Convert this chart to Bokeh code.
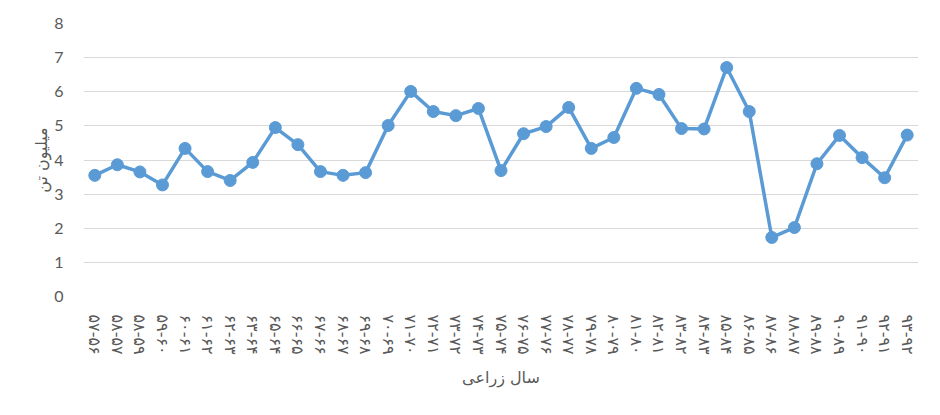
from bokeh.plotting import figure
from bokeh.models import ColumnDataSource, Range1d, FixedTicker
from bokeh.embed import file_html
from bokeh.resources import INLINE

years = ["۵۷-۵۶", "۵۸-۵۷", "۵۸-۵۹", "۵۹-۶۰", "۶۰-۶۱", "۶۱-۶۲", "۶۲-۶۳", "۶۳-۶۴",
         "۶۵-۶۴", "۶۶-۶۵", "۶۷-۶۶", "۶۸-۶۷", "۶۹-۶۸", "۷۰-۶۹", "۷۱-۷۰", "۷۲-۷۱",
         "۷۳-۷۲", "۷۴-۷۳", "۷۵-۷۴", "۷۶-۷۵", "۷۷-۷۶", "۷۸-۷۷", "۷۹-۷۸", "۸۰-۷۹",
         "۸۱-۸۰", "۸۲-۸۱", "۸۳-۸۲", "۸۴-۸۳", "۸۵-۸۴", "۸۶-۸۵", "۸۷-۸۶", "۸۸-۸۷",
         "۸۹-۸۸", "۹۰-۸۹", "۹۱-۹۰", "۹۲-۹۱", "۹۳-۹۲"]
production = [3.55, 3.86, 3.65, 3.27, 4.34, 3.66, 3.40, 3.93, 4.95, 4.45, 3.66, 3.55,
              3.63, 5.01, 6.01, 5.42, 5.30, 5.51, 3.69, 4.77, 4.98, 5.54, 4.34, 4.66,
              6.10, 5.92, 4.92, 4.91, 6.71, 5.42, 1.73, 2.02, 3.89, 4.72, 4.07, 3.48, 4.73]
y_ticks = [0, 1, 2, 3, 4, 5, 6, 7, 8]
x_title = "سال زراعی"
y_title = "میلیون تن"

src = ColumnDataSource(dict(x=years, y=production))

p = figure(width=930, height=405, x_range=years, y_range=Range1d(0, 8),
           output_backend="svg", toolbar_location=None,
           min_border_left=83, min_border_right=12, min_border_top=23,
           min_border_bottom=109)
p.outline_line_color = None
p.background_fill_color = "white"

p.line("x", "y", source=src, line_color="#5B9BD5", line_width=3.5)
p.scatter("x", "y", source=src, size=12, fill_color="#5B9BD5", line_color="#5B9BD5")

p.xgrid.grid_line_color = None
p.ygrid.grid_line_color = "#D9D9D9"
p.ygrid.grid_line_width = 1

p.yaxis.ticker = FixedTicker(ticks=y_ticks)
p.yaxis.axis_line_color = None
p.yaxis.major_tick_line_color = None
p.yaxis.minor_tick_line_color = None
p.yaxis.major_label_standoff = 14
p.yaxis.major_label_text_font = "Lato"
p.yaxis.major_label_text_font_size = "16px"
p.yaxis.major_label_text_color = "#595959"
p.yaxis.axis_label = y_title
p.yaxis.axis_label_text_font = "DejaVu Sans"
p.yaxis.axis_label_text_font_size = "16px"
p.yaxis.axis_label_text_font_style = "normal"
p.yaxis.axis_label_text_color = "#595959"
p.yaxis.axis_label_standoff = 0

p.xaxis.axis_line_color = None
p.xaxis.major_tick_line_color = None
p.xaxis.minor_tick_line_color = None
p.xaxis.major_label_orientation = "vertical"
p.xaxis.major_label_standoff = 12
p.xaxis.major_label_text_font = "DejaVu Sans"
p.xaxis.major_label_text_font_size = "16px"
p.xaxis.major_label_text_color = "#595959"
p.xaxis.axis_label = x_title
p.xaxis.axis_label_text_font = "DejaVu Sans"
p.xaxis.axis_label_text_font_size = "16px"
p.xaxis.axis_label_text_font_style = "normal"
p.xaxis.axis_label_text_color = "#595959"
p.xaxis.axis_label_standoff = 10

open("out.html", "w").write(file_html(p, INLINE))
